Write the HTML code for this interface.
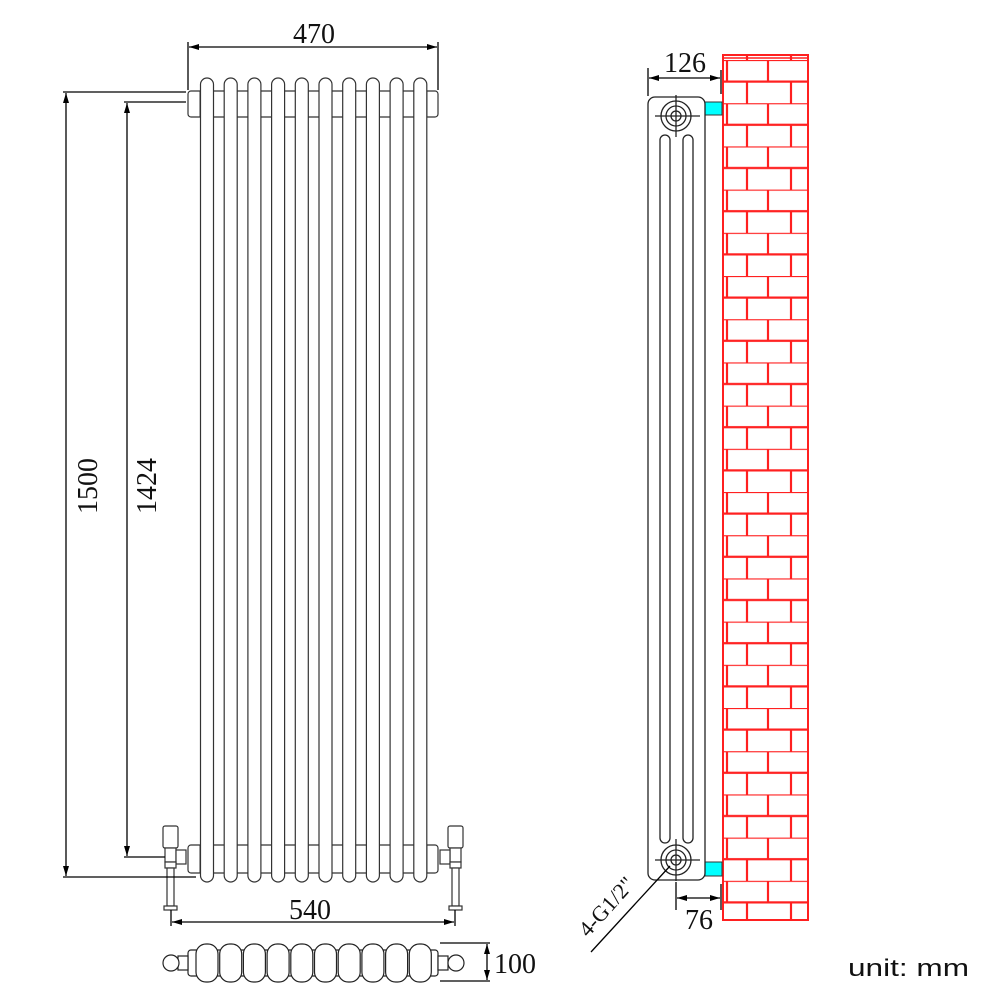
<!DOCTYPE html>
<html><head><meta charset="utf-8"><style>html,body{margin:0;padding:0;background:#fff}svg{display:block}</style></head>
<body>
<svg width="1001" height="1001" viewBox="0 0 1001 1001" xmlns="http://www.w3.org/2000/svg" font-family="'Liberation Serif',serif">
<defs>
<pattern id="brick" x="723" y="60" width="85" height="43.2" patternUnits="userSpaceOnUse">
<g stroke="#ff2020" stroke-width="2.2" fill="none">
<line x1="0" y1="0" x2="85" y2="0"/><line x1="0" y1="21.6" x2="85" y2="21.6"/>
<line x1="4" y1="0" x2="4" y2="21.6"/><line x1="45" y1="0" x2="45" y2="21.6"/>
<line x1="24" y1="21.6" x2="24" y2="43.2"/><line x1="68" y1="21.6" x2="68" y2="43.2"/>
</g></pattern>
<g id="col"><rect x="-6.5" y="78" width="13" height="804" rx="6.5" fill="#fff" stroke="#333" stroke-width="1.2"/></g>
<g id="plan"><rect x="-11" y="944" width="22" height="38" rx="10" fill="#fff" stroke="#222" stroke-width="1.2"/></g>
<marker id="ar" markerWidth="10" markerHeight="6" refX="10" refY="3" orient="auto-start-reverse" markerUnits="userSpaceOnUse"><path d="M0,0 L10,3 L0,6 Z" fill="#000"/></marker>
</defs>

<rect x="723" y="55" width="85" height="865" fill="url(#brick)" stroke="#ff2020" stroke-width="2"/>
<line x1="723" y1="58" x2="808" y2="58" stroke="#ff2020" stroke-width="1.5"/>

<g stroke="#333" stroke-width="1.2" fill="#fff">
<rect x="188" y="91" width="250" height="26" rx="3"/>
<rect x="188" y="845" width="250" height="28" rx="3"/>
</g>
<g>
<use href="#col" x="207"/><use href="#col" x="230.7"/><use href="#col" x="254.4"/><use href="#col" x="278.1"/><use href="#col" x="301.8"/>
<use href="#col" x="325.5"/><use href="#col" x="349.2"/><use href="#col" x="372.9"/><use href="#col" x="396.6"/><use href="#col" x="420.3"/>
</g>
<g stroke="#333" stroke-width="1" fill="none">
<line x1="200" y1="91" x2="200" y2="117"/><line x1="427" y1="91" x2="427" y2="117"/>
<line x1="200" y1="845" x2="200" y2="873"/><line x1="427" y1="845" x2="427" y2="873"/>
</g>
<g stroke="#333" stroke-width="1.2" fill="#fff">
<rect x="163" y="826" width="15" height="22" rx="2"/>
<rect x="165" y="848" width="11" height="14"/>
<rect x="176" y="850" width="10" height="14"/>
<rect x="165" y="862" width="11" height="6"/>
<rect x="167" y="868" width="7" height="38"/>
<rect x="164" y="906" width="13" height="4"/>
<rect x="448" y="826" width="15" height="22" rx="2"/>
<rect x="450" y="848" width="11" height="14"/>
<rect x="440" y="850" width="10" height="14"/>
<rect x="450" y="862" width="11" height="6"/>
<rect x="452" y="868" width="7" height="38"/>
<rect x="449" y="906" width="13" height="4"/>
</g>

<g stroke="#000" stroke-width="1.3" fill="none">
<line x1="188" y1="42" x2="188" y2="90"/><line x1="438" y1="42" x2="438" y2="90"/>
<line x1="189" y1="47" x2="437" y2="47" marker-start="url(#ar)" marker-end="url(#ar)"/>
<line x1="63" y1="92" x2="186" y2="92"/><line x1="63" y1="877" x2="196" y2="877"/>
<line x1="66" y1="93" x2="66" y2="876" marker-start="url(#ar)" marker-end="url(#ar)"/>
<line x1="124" y1="102" x2="186" y2="102"/><line x1="124" y1="857" x2="165" y2="857"/>
<line x1="127" y1="103" x2="127" y2="856" marker-start="url(#ar)" marker-end="url(#ar)"/>
<line x1="171" y1="910" x2="171" y2="926"/><line x1="455" y1="910" x2="455" y2="926"/>
<line x1="172" y1="922" x2="454" y2="922" marker-start="url(#ar)" marker-end="url(#ar)"/>
<line x1="440" y1="943" x2="490" y2="943"/><line x1="440" y1="981" x2="490" y2="981"/>
<line x1="487" y1="944" x2="487" y2="980" marker-start="url(#ar)" marker-end="url(#ar)"/>
</g>
<g font-size="28" fill="#111">
<text x="314" y="43" text-anchor="middle">470</text>
<text x="310" y="919" text-anchor="middle">540</text>
<text x="494" y="973">100</text>
<text transform="translate(97,486) rotate(-90)" text-anchor="middle">1500</text>
<text transform="translate(156,486) rotate(-90)" text-anchor="middle">1424</text>
</g>

<g stroke="#222" stroke-width="1.2" fill="#fff">
<rect x="188" y="950" width="250" height="26" rx="3"/>
<rect x="178" y="956" width="10" height="14"/>
<rect x="438" y="956" width="10" height="14"/>
<circle cx="171" cy="963" r="8"/><circle cx="456" cy="963" r="8"/>
</g>
<use href="#plan" x="207"/><use href="#plan" x="230.7"/><use href="#plan" x="254.4"/><use href="#plan" x="278.1"/><use href="#plan" x="301.8"/>
<use href="#plan" x="325.5"/><use href="#plan" x="349.2"/><use href="#plan" x="372.9"/><use href="#plan" x="396.6"/><use href="#plan" x="420.3"/>

<rect x="705" y="102" width="17" height="13" fill="#00ffff" stroke="#333" stroke-width="1"/>
<rect x="705" y="862" width="17" height="14" fill="#00ffff" stroke="#333" stroke-width="1"/>
<g stroke="#222" stroke-width="1.3" fill="#fff">
<rect x="648" y="97" width="57" height="783" rx="7"/>
<rect x="660" y="135" width="10" height="708" rx="5"/>
<rect x="683" y="135" width="10" height="708" rx="5"/>
<circle cx="676" cy="116" r="15"/><circle cx="676" cy="116" r="10"/><circle cx="676" cy="116" r="5"/>
<circle cx="676" cy="860" r="15"/><circle cx="676" cy="860" r="10"/><circle cx="676" cy="860" r="5"/>
<line x1="655" y1="116" x2="700" y2="116"/><line x1="676" y1="95" x2="676" y2="137"/>
<line x1="655" y1="860" x2="700" y2="860"/><line x1="676" y1="839" x2="676" y2="881"/>
</g>
<g stroke="#000" stroke-width="1.3" fill="none">
<line x1="648" y1="68" x2="648" y2="96"/><line x1="721" y1="70" x2="721" y2="94"/>
<line x1="649" y1="78" x2="720" y2="78" marker-start="url(#ar)" marker-end="url(#ar)"/>
<line x1="676" y1="882" x2="676" y2="910"/><line x1="721" y1="884" x2="721" y2="910"/>
<line x1="677" y1="898" x2="720" y2="898" marker-start="url(#ar)" marker-end="url(#ar)"/>
<line x1="591" y1="952" x2="670" y2="866"/>
</g>
<g font-size="28" fill="#111">
<text x="685" y="72" text-anchor="middle">126</text>
<text x="699" y="929" text-anchor="middle">76</text>
<text transform="translate(588,938) rotate(-48)" font-size="22">4-G1/2"</text>
</g>
<text x="848" y="976" font-family="'Liberation Sans',sans-serif" font-size="24" fill="#111" textLength="121" lengthAdjust="spacingAndGlyphs">unit: mm</text>
</svg>
</body></html>
